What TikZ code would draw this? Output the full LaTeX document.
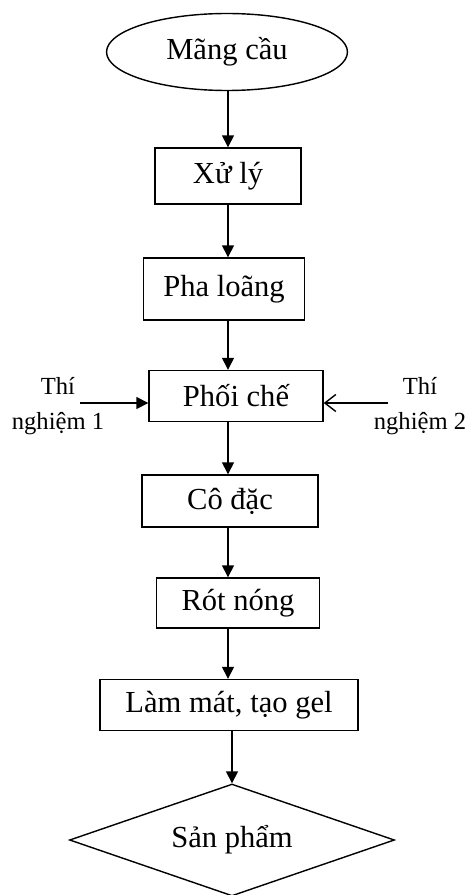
\documentclass[tikz,border=0pt]{standalone}
\usepackage{fontspec}
\setmainfont{Liberation Serif}
\usetikzlibrary{shapes.geometric,arrows.meta}

\begin{document}
\begin{tikzpicture}[
  x=0.02cm, y=-0.02cm,
  font=\fontsize{17.4}{20}\selectfont,
  box/.style={draw, line width=0.8pt, inner sep=0pt, align=center},
  label/.style={align=center, inner sep=0pt, font=\fontsize{14}{19.9}\selectfont},
  arrow/.style={-{Triangle[length=2.4mm,width=2.4mm]}, line width=0.8pt},
  openarrow/.style={-{Straight Barb[length=2.2mm,width=3.4mm]}, line width=0.8pt}
]
\useasboundingbox (0,0) rectangle (470,895);

\node[box, ellipse, minimum width=4.82cm, minimum height=1.54cm] (mangcau) at (227,52) {Mãng cầu};
\node[box, minimum width=2.92cm, minimum height=1.12cm] (xuly) at (228,176) {Xử lý};
\node[box, minimum width=3.22cm, minimum height=1.24cm] (phaloang) at (224,289) {Pha loãng};
\node[box, minimum width=3.48cm, minimum height=1.02cm] (phoiche) at (236,396) {Phối chế};
\node[box, minimum width=3.52cm, minimum height=1.04cm] (codac) at (230,501) {Cô đặc};
\node[box, minimum width=3.26cm, minimum height=1.00cm] (rotnong) at (238,603) {Rót nóng};
\node[box, minimum width=5.16cm, minimum height=1.02cm] (lammat) at (229,705) {Làm mát, tạo gel};
\node[box, diamond, aspect=2.9, minimum width=6.5cm, minimum height=2.24cm] (sanpham) at (232,840) {Sản phẩm};

\node[label] (tn1) at (58,406) {Thí\\nghiệm 1};
\node[label] (tn2) at (420,406) {Thí\\nghiệm 2};
\coordinate (in1) at (80,403);
\coordinate (in2) at (388,403);
\coordinate (axis) at (228,0);

\draw[arrow] (mangcau.south -| axis) -- (xuly.north -| axis);
\draw[arrow] (xuly.south -| axis) -- (phaloang.north -| axis);
\draw[arrow] (phaloang.south -| axis) -- (phoiche.north -| axis);
\draw[arrow] (phoiche.south -| axis) -- (codac.north -| axis);
\draw[arrow] (codac.south -| axis) -- (rotnong.north -| axis);
\draw[arrow] (rotnong.south -| axis) -- (lammat.north -| axis);
\draw[arrow] (lammat.south -| sanpham.north) -- (sanpham.north);

\draw[arrow] (in1) -- (phoiche.west |- in1);
\draw[openarrow] (in2) -- (phoiche.east |- in2);
\end{tikzpicture}
\end{document}
